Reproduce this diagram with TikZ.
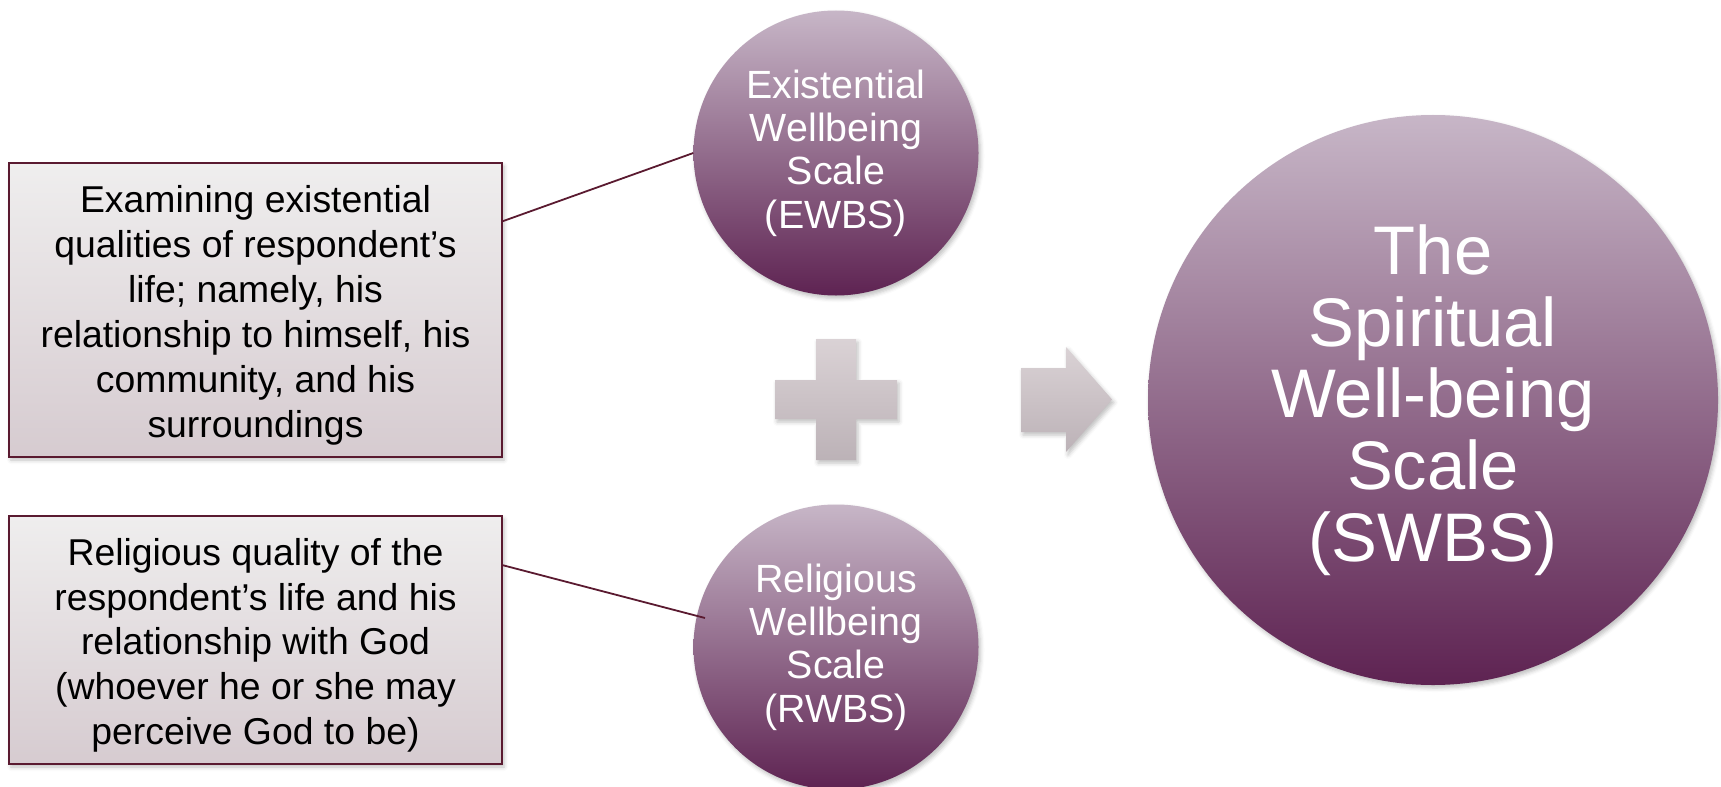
\documentclass[tikz,border=0pt]{standalone}
\usepackage{fontspec}
\setmainfont{Liberation Sans}
\usetikzlibrary{shadows.blur}

\definecolor{edgeMaroon}{HTML}{5A1A30}
\definecolor{boxTop}{HTML}{EFEEEE}
\definecolor{boxBottom}{HTML}{D6CBD0}
\definecolor{orbTop}{HTML}{C7B6C7}
\definecolor{orbBottom}{HTML}{5E2352}
\definecolor{signTop}{HTML}{DAD2D5}
\definecolor{signBottom}{HTML}{BCB2B7}

% centred lines, drawn a little below the middle of their box
\newcommand{\boxlines}[1]{\raisebox{-6bp}[\height][\depth]{\begin{tabular}{@{}c@{}}#1\end{tabular}}}

\tikzset{
  softshadow/.style={blur shadow={shadow xshift=2bp, shadow yshift=-3bp,
      shadow blur radius=4bp, shadow opacity=25}},
  infobox/.style={draw=edgeMaroon, line width=1.6bp, top color=boxTop,
      bottom color=boxBottom, minimum width=493bp,
      inner sep=0pt, font=\fontsize{37.5}{45}\selectfont, softshadow},
  orb/.style={circle, top color=orbTop, bottom color=orbBottom,
      inner sep=0pt, align=center, text=white, softshadow},
  smallorb/.style={orb, minimum size=285bp, font=\fontsize{39.5}{43.5}\selectfont},
  bigorb/.style={orb, minimum size=570bp, font=\fontsize{69}{72}\selectfont},
  link/.style={draw=edgeMaroon, line width=1.8bp},
  sign/.style={top color=signTop, bottom color=signBottom, softshadow}
}

\begin{document}
\begin{tikzpicture}[x=1bp, y=-1bp]
  \useasboundingbox (0,0) rectangle (1721,787);

  % description boxes
  \node[infobox, minimum height=294bp] (b1) at (255.5,310)
    {\boxlines{Examining existential\\qualities of respondent’s\\life; namely, his\\relationship to himself, his\\community, and his\\surroundings}};
  \node[infobox, minimum height=248bp] (b2) at (255.5,640)
    {\boxlines{Religious quality of the\\respondent’s life and his\\relationship with God\\(whoever he or she may\\perceive God to be)}};

  % the two sub-scales
  \node[smallorb] (e) at (836,153) {Existential\\Wellbeing\\Scale\\(EWBS)};
  \node[smallorb] (r) at (836,647) {Religious\\Wellbeing\\Scale\\(RWBS)};

  % the combined scale
  \node[bigorb] (s) at (1433,400) {The\\Spiritual\\Well-being\\Scale\\(SWBS)};

  % plus sign
  \path[sign] (816,339) -- (856,339) -- (856,380) -- (897,380) -- (897,419)
    -- (856,419) -- (856,460) -- (816,460) -- (816,419) -- (775,419)
    -- (775,380) -- (816,380) -- cycle;

  % block arrow
  \path[sign] (1021,368) -- (1066,368) -- (1066,347) -- (1112,399.5)
    -- (1066,452) -- (1066,432) -- (1021,432) -- cycle;

  % connectors from the boxes to the scales
  \draw[link] ([yshift=-59bp]b1.north east) -- (e.west);
  \draw[link] ([yshift=-50bp]b2.north east) -- ([xshift=-131bp,yshift=29bp]r.center);
\end{tikzpicture}
\end{document}
